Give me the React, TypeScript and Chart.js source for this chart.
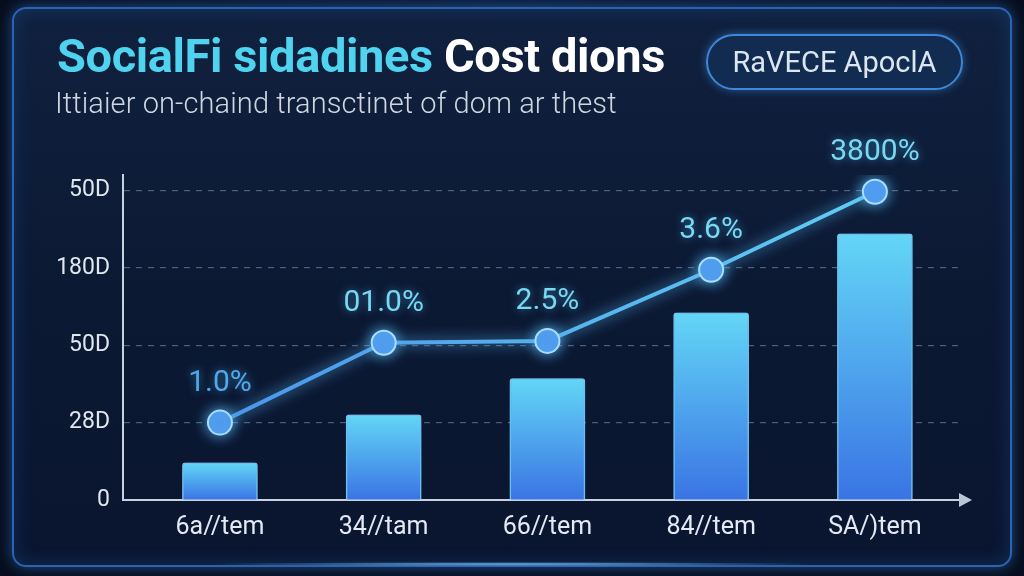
import React, { useEffect, useRef } from "react";
import { Chart, registerables } from "chart.js";

Chart.register(...registerables);

// ---- data ----
const categories = ["6a//tem", "34//tam", "66//tem", "84//tem", "SA/)tem"];
const categoryPositions = [0, 1, 2, 3, 4];
const barValues = [120, 275, 392, 605, 860];
const lineValues = [250, 508, 514, 744, 996];
const lineLabels = ["1.0%", "01.0%", "2.5%", "3.6%", "3800%"];
const yTickValues = [0, 250, 500, 750, 1000];
const yTickLabels = ["0", "28D", "50D", "180D", "50D"];

const titleCyan = "SocialFi sidadines";
const titleWhite = "Cost dions";
const subtitle = "Ittiaier on-chaind transctinet of dom ar thest";
const pillText = "RaVECE ApoclA";

const FONT = "Roboto, 'Noto Sans', sans-serif";

const glowPlugin = {
  id: "glow",
  beforeDatasetDraw(chart: any, args: any) {
    const ctx = chart.ctx;
    ctx.save();
    ctx.shadowColor = args.meta.type === "line" ? "rgba(90,190,255,0.9)" : "rgba(70,170,255,0.8)";
    ctx.shadowBlur = args.meta.type === "line" ? 14 : 20;
  },
  afterDatasetDraw(chart: any) {
    chart.ctx.restore();
  },
};

const labelPlugin = {
  id: "pointLabels",
  afterDatasetsDraw(chart: any) {
    const meta = chart.getDatasetMeta(1);
    const ctx = chart.ctx;
    ctx.save();
    ctx.font = `30px ${FONT}`;
    ctx.textAlign = "center";
    ctx.textBaseline = "middle";
    ctx.shadowColor = "rgba(80,190,255,0.6)";
    ctx.shadowBlur = 8;
    meta.data.forEach((pt: any, i: number) => {
      ctx.fillStyle = i === 0 ? "#4fa9ec" : "#78d9f0";
      ctx.fillText(lineLabels[i], pt.x, pt.y - 39);
    });
    ctx.restore();
  },
};

const arrowPlugin = {
  id: "arrow",
  afterDraw(chart: any) {
    const { ctx, chartArea } = chart;
    const x = chartArea.right;
    const y = chartArea.bottom;
    ctx.save();
    ctx.fillStyle = "#b9c6d6";
    ctx.beginPath();
    ctx.moveTo(x - 3, y - 7);
    ctx.lineTo(x + 10, y);
    ctx.lineTo(x - 3, y + 7);
    ctx.closePath();
    ctx.fill();
    ctx.restore();
  },
};

export default function App() {
  const canvasRef = useRef<HTMLCanvasElement | null>(null);

  useEffect(() => {
    document.body.style.margin = "0";
    const canvas = canvasRef.current;
    if (!canvas) return;

    const barBg = (c: any) => {
      const chart = c.chart;
      const area = chart.chartArea;
      if (!area || c.raw == null) return "#4aa0ee";
      const yScale = chart.scales.y;
      const top = yScale.getPixelForValue(c.raw.y);
      const g = chart.ctx.createLinearGradient(0, top, 0, area.bottom);
      g.addColorStop(0, "#63d6f6");
      g.addColorStop(1, "#3a74e4");
      return g;
    };

    const lineColor = (c: any) => {
      const chart = c.chart;
      const area = chart.chartArea;
      if (!area) return "#4a9aee";
      const g = chart.ctx.createLinearGradient(area.left, 0, area.right, 0);
      g.addColorStop(0, "#4a8de8");
      g.addColorStop(1, "#62d4f4");
      return g;
    };

    const chart = new Chart(canvas, {
      type: "bar",
      data: {
        datasets: [
          {
            type: "bar",
            label: "bars",
            data: categoryPositions.map((x, i) => ({ x, y: barValues[i] })),
            backgroundColor: barBg,
            borderColor: "rgba(150,230,255,0.85)",
            borderWidth: 1.5,
            borderRadius: 3,
            borderSkipped: "bottom",
            barThickness: 75,
            order: 2,
          } as any,
          {
            type: "line",
            label: "line",
            data: categoryPositions.map((x, i) => ({ x, y: lineValues[i] })),
            borderColor: lineColor,
            borderWidth: 4,
            pointRadius: 12,
            pointBackgroundColor: "#4f98ec",
            pointBorderColor: "#a8defc",
            pointBorderWidth: 2,
            tension: 0,
            order: 1,
          } as any,
        ],
      },
      options: {
        animation: false,
        responsive: false,
        devicePixelRatio: 1,
        layout: { padding: { top: 175, right: 62, bottom: 0, left: 0 } },
        plugins: {
          legend: { display: false },
          tooltip: { enabled: false },
          title: { display: false },
        },
        scales: {
          x: {
            type: "linear",
            offset: false,
            min: -0.592,
            max: 4.532,
            afterFit: (s: any) => {
              s.height = 76;
            },
            afterBuildTicks: (s: any) => {
              s.ticks = categoryPositions.map((v) => ({ value: v }));
            },
            grid: { display: false, drawTicks: false },
            border: { display: true, color: "#c7d2e0", width: 2 },
            ticks: {
              autoSkip: false,
              maxRotation: 0,
              padding: 13,
              color: "#e4eaf3",
              font: { family: FONT, size: 25 },
              callback: (v: any) => {
                const i = categoryPositions.indexOf(Number(v));
                return i >= 0 ? categories[i] : "";
              },
            },
          },
          y: {
            min: 0,
            max: 1050,
            afterFit: (s: any) => {
              s.width = 123;
            },
            afterBuildTicks: (s: any) => {
              s.ticks = yTickValues.map((v) => ({ value: v }));
            },
            grid: {
              drawTicks: false,
              lineWidth: 1.2,
              color: (c: any) => (c.tick && c.tick.value === 0 ? "rgba(0,0,0,0)" : "rgba(160,180,210,0.45)"),
            },
            border: { display: true, color: "#c7d2e0", width: 2, dash: [6, 6] },
            ticks: {
              padding: 13,
              color: "#dfe6ef",
              font: { family: FONT, size: 23 },
              callback: (v: any) => {
                const i = yTickValues.indexOf(Number(v));
                return i >= 0 ? yTickLabels[i] : "";
              },
            },
          },
        },
      },
      plugins: [glowPlugin, labelPlugin, arrowPlugin],
    } as any);

    return () => chart.destroy();
  }, []);

  return (
    <div
      style={{
        position: "fixed",
        left: 0,
        top: 0,
        width: 1024,
        height: 576,
        overflow: "hidden",
        background: "radial-gradient(ellipse at 50% 0%, #0d1b36 0%, #070e1e 70%)",
        fontFamily: FONT,
      }}
    >
      <div
        style={{
          position: "absolute",
          left: 12,
          top: 7,
          width: 996,
          height: 556,
          borderRadius: 14,
          border: "2px solid #2b63b0",
          boxShadow: "0 0 14px rgba(50,130,230,0.55), inset 0 0 18px rgba(40,110,210,0.25)",
          background: "linear-gradient(180deg, #10213f 0%, #0c1933 50%, #0a1630 100%)",
        }}
      />
      <div
        style={{
          position: "absolute",
          left: 200,
          top: 562,
          width: 624,
          height: 4,
          borderRadius: 2,
          background: "radial-gradient(ellipse at center, rgba(120,200,255,0.9) 0%, rgba(60,140,230,0) 70%)",
        }}
      />
      <div
        style={{
          position: "absolute",
          left: 57,
          top: 28,
          fontSize: 47,
          fontWeight: 700,
          whiteSpace: "nowrap",
          letterSpacing: -0.4,
          lineHeight: "56px",
        }}
      >
        <span style={{ color: "#4fd3ef" }}>{titleCyan}</span>{" "}
        <span style={{ color: "#ffffff" }}>{titleWhite}</span>
      </div>
      <div
        style={{
          position: "absolute",
          left: 55,
          top: 85,
          fontSize: 29,
          fontWeight: 300,
          color: "#cfd6e0",
          whiteSpace: "nowrap",
          lineHeight: "36px",
          letterSpacing: 0.1,
        }}
      >
        {subtitle}
      </div>
      <div
        style={{
          position: "absolute",
          left: 706,
          top: 34,
          width: 257,
          height: 56,
          boxSizing: "border-box",
          borderRadius: 28,
          border: "2px solid #3f88d8",
          boxShadow: "0 0 10px rgba(60,140,230,0.55)",
          background: "rgba(22,52,96,0.55)",
          color: "#dce6f2",
          fontSize: 29,
          display: "flex",
          alignItems: "center",
          justifyContent: "center",
          whiteSpace: "nowrap",
        }}
      >
        {pillText}
      </div>
      <canvas
        ref={canvasRef}
        width={1024}
        height={576}
        style={{ position: "absolute", left: 0, top: 0, width: 1024, height: 576 }}
      />
    </div>
  );
}
